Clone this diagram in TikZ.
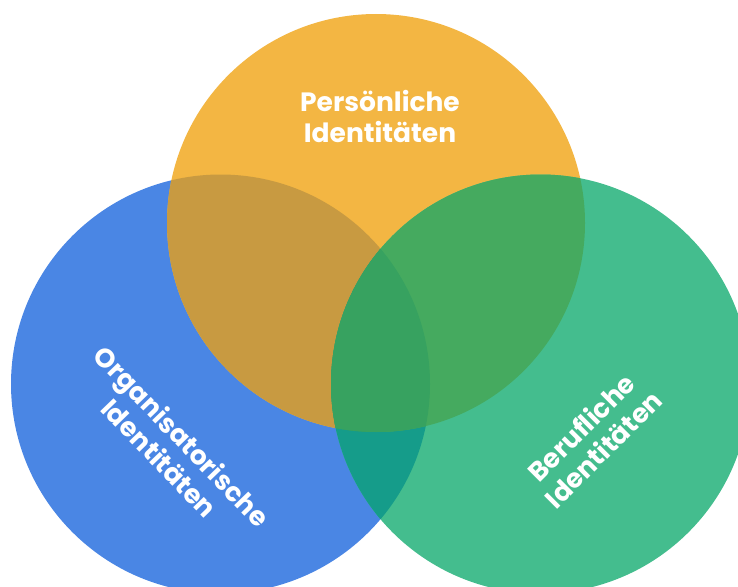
\documentclass[tikz,border=0pt]{standalone}
\usepackage{fontspec}
\newfontfamily\labelfont[BoldFont={Poppins Bold}]{Poppins}
\definecolor{cblue}{HTML}{4A86E4}
\definecolor{corange}{HTML}{F3B643}
\definecolor{cgreen}{HTML}{44BD8E}
\definecolor{cob}{HTML}{C89A41}
\definecolor{cog}{HTML}{45AA5F}
\definecolor{cbg}{HTML}{159C8A}
\definecolor{call}{HTML}{37A260}
\tikzset{
  lbl/.style={text=white, align=center, font=\labelfont\bfseries\fontsize{26.5}{31}\selectfont, inner sep=0pt}
}
\begin{document}
\begin{tikzpicture}[x=1pt,y=-1pt]
\useasboundingbox (0,0) rectangle (738,586);
\def\B{(220.5,384) circle (209.5)}
\def\O{(376,223) circle (209)}
\def\G{(540.5,384) circle (209.5)}
\fill[cblue] \B;
\fill[corange] \O;
\fill[cgreen] \G;
\begin{scope}
  \clip \B;
  \fill[cob] \O;
  \fill[cbg] \G;
  \clip \O;
  \fill[call] \G;
\end{scope}
\begin{scope}
  \clip \O;
  \clip \G;
  \fill[cog] (376,0) rectangle (760,600);
  \clip \B;
  \fill[call] \O;
\end{scope}
\node[lbl] (pers) at (380,116) {Persönliche\\Identitäten};
\node[lbl, rotate=-46] (org) at (171,447) {Organisatorische\\Identitäten};
\node[lbl, rotate=45] (ber) at (592,438) {Berufliche\\Identitäten};
\end{tikzpicture}
\end{document}
